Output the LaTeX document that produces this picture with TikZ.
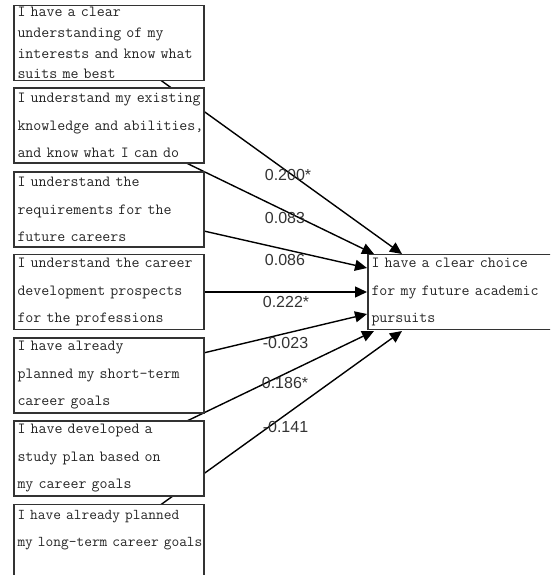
\documentclass[tikz,border=0pt]{standalone}
\usepackage{fontspec}
\newfontfamily\labelfont{Liberation Sans}
\usetikzlibrary{arrows.meta,backgrounds}
\newcommand\bxl[1]{\mbox{#1}}
\begin{document}
\begin{tikzpicture}[x=1pt,y=-1pt,
  box/.style={draw=black!80,line width=1.6pt,fill=white,minimum width=190pt,minimum height=75pt,
    text width=183pt,inner xsep=3.5pt,inner ysep=0pt,align=left,
    font=\ttfamily\fontsize{15.5}{27.5}\selectfont,text=black!85},
  link/.style={draw=black,line width=1.4pt,-{Triangle[length=12pt,width=11pt]}},
  coef/.style={font=\labelfont\fontsize{16}{18}\selectfont,text=black!80,inner sep=0pt}]
\useasboundingbox (0,0) rectangle (550,575);
\clip (0,0) rectangle (550,575);
% boxes
\node[box,font=\ttfamily\fontsize{15.5}{20.7}\selectfont] (a1) at (109,43) {\bxl{I have a clear}\\\bxl{understanding of my}\\\bxl{interests and know what}\\\bxl{suits me best}};
\node[box] (a2) at (109,125.5) {\bxl{I understand my existing}\\\bxl{knowledge and abilities,}\\\bxl{and know what I can do}};
\node[box] (a3) at (109,209.5) {\bxl{I understand the}\\\bxl{requirements for the}\\\bxl{future careers}};
\node[box] (a4) at (109,292) {\bxl{I understand the career}\\\bxl{development prospects}\\\bxl{for the professions}};
\node[box] (a5) at (109,375.5) {\bxl{I have already}\\\bxl{planned my short-term}\\\bxl{career goals}};
\node[box] (a6) at (109,458.5) {\bxl{I have developed a}\\\bxl{study plan based on}\\\bxl{my career goals}};
\node[box,font=\ttfamily\fontsize{15}{27.5}\selectfont] (a7) at (109,542) {\bxl{I have already planned}\\\bxl{my long-term career goals}\\\bxl{}};
\node[box] (y) at (463,292) {\bxl{I have a clear choice}\\\bxl{for my future academic}\\\bxl{pursuits}};
% arrow end points on the outcome box
\coordinate (t1) at (402,254);
\coordinate (t2) at (374,254);
\coordinate (t3) at (367,268);
\coordinate (t4) at (367,292);
\coordinate (t5) at (367,314);
\coordinate (t6) at (374,331);
\coordinate (t7) at (402,331);
\begin{scope}[on background layer]
\draw[link] (a1.center) -- (t1);
\draw[link] (a2.center) -- (t2);
\draw[link] (a3.center) -- (t3);
\draw[link] (a4.center) -- (t4);
\draw[link] (a5.center) -- (t5);
\draw[link] (a6.center) -- (t6);
\draw[link] (a7.center) -- (t7);
\end{scope}
% coefficients
\node[coef] (c1) at (288,175) {0.200*};
\node[coef] (c2) at (285,218) {0.083};
\node[coef] (c3) at (285,260) {0.086};
\node[coef] (c4) at (286,302) {0.222*};
\node[coef] (c5) at (285.5,343) {-0.023};
\node[coef] (c6) at (285,383) {0.186*};
\node[coef] (c7) at (285.5,427) {-0.141};
\end{tikzpicture}
\end{document}
